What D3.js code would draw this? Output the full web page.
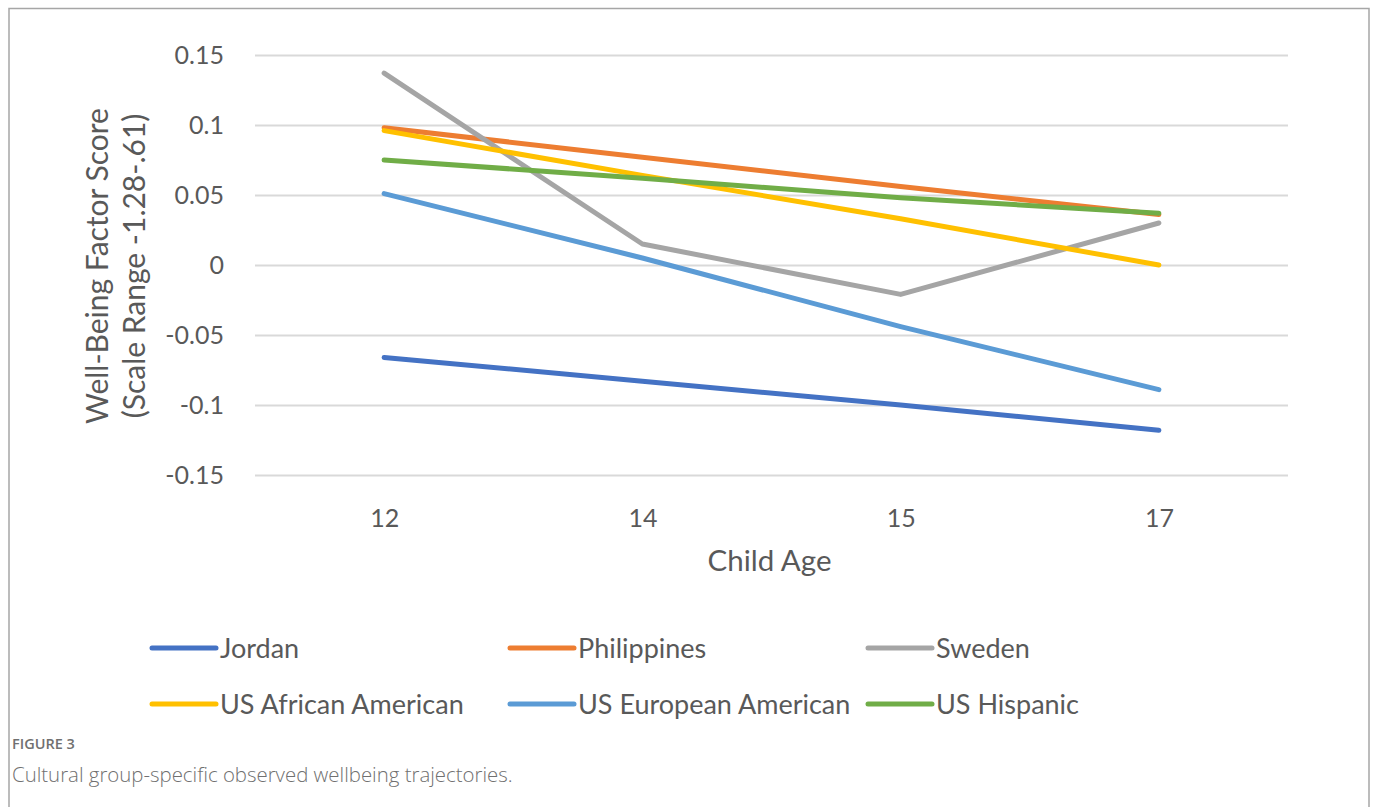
<!DOCTYPE html>
<html>
<head>
<meta charset="utf-8">
<script src="https://cdn.jsdelivr.net/npm/d3@7"></script>
<style>
  html, body { margin: 0; padding: 0; background: #fff; }
  svg { display: block; }
</style>
</head>
<body>
<svg id="chart" width="1375" height="807"></svg>
<script>
// Observed well-being factor scores by child age, per cultural group
const ages = ["12", "14", "15", "17"];
const yTicks = [0.15, 0.1, 0.05, 0, -0.05, -0.1, -0.15];

const jordan             = [-0.066, -0.083, -0.100, -0.118];
const philippines        = [ 0.098,  0.077,  0.056,  0.036];
const sweden             = [ 0.137,  0.015, -0.021,  0.030];
const usAfricanAmerican  = [ 0.096,  0.064,  0.033,  0.000];
const usEuropeanAmerican = [ 0.051,  0.005, -0.044, -0.089];
const usHispanic         = [ 0.075,  0.062,  0.048,  0.037];

const groupNames = ["Jordan", "Philippines", "Sweden",
                    "US African American", "US European American", "US Hispanic"];
const groupColors = ["#4472C4", "#ED7D31", "#A5A5A5", "#FFC000", "#5B9BD5", "#70AD47"];

const series = [jordan, philippines, sweden, usAfricanAmerican, usEuropeanAmerican, usHispanic]
  .map((vals, i) => ({ name: groupNames[i], color: groupColors[i], values: vals }));

const svg = d3.select("#chart");
const chartFont = "Lato, 'Open Sans', sans-serif";
const textGrey = "#595959";

// outer frame around the figure
svg.append("path")
  .attr("d", "M9,820 V8.5 H1369 V820")
  .attr("fill", "none")
  .attr("stroke", "#a6a6a6")
  .attr("stroke-width", 1.5);

const plot = { left: 255, right: 1288, top: 55, bottom: 475 };

const x = d3.scalePoint().domain(ages).range([plot.left, plot.right]).padding(0.5);
const y = d3.scaleLinear().domain([-0.15, 0.15]).range([plot.bottom, plot.top]);

// horizontal gridlines + value labels (plain hyphen for negatives)
const yAxis = d3.axisLeft(y)
  .tickValues(yTicks)
  .tickSize(-(plot.right - plot.left))
  .tickPadding(31)
  .tickFormat(d => String(+d.toFixed(2)));

const gy = svg.append("g")
  .attr("transform", `translate(${plot.left},0)`)
  .call(yAxis);
gy.select(".domain").remove();
gy.selectAll(".tick line").attr("stroke", "#d9d9d9").attr("stroke-width", 2);
gy.selectAll(".tick text")
  .attr("fill", textGrey)
  .style("font-family", chartFont)
  .style("font-size", "25px");

// category labels along the bottom
const xAxis = d3.axisBottom(x).tickSize(0).tickPadding(34);
const gx = svg.append("g")
  .attr("transform", `translate(0,${plot.bottom})`)
  .call(xAxis);
gx.select(".domain").remove();
gx.selectAll(".tick text")
  .attr("fill", textGrey)
  .style("font-family", chartFont)
  .style("font-size", "25px");

// axis titles
svg.append("text")
  .attr("x", (plot.left + plot.right) / 2 - 2)
  .attr("y", 571)
  .attr("text-anchor", "middle")
  .attr("fill", textGrey)
  .style("font-family", chartFont)
  .style("font-size", "29.5px")
  .text("Child Age");

const yTitle = svg.append("text")
  .attr("transform", "translate(0,266) rotate(-90)")
  .attr("text-anchor", "middle")
  .attr("fill", textGrey)
  .style("font-family", chartFont)
  .style("font-size", "30px");
yTitle.append("tspan").attr("x", 0).attr("y", 108).text("Well-Being Factor Score");
yTitle.append("tspan").attr("x", 0).attr("y", 145).text("(Scale Range -1.28-.61)");

// trajectories
const line = d3.line()
  .x((d, i) => x(ages[i]))
  .y(d => y(d));

svg.append("g")
  .selectAll("path")
  .data(series)
  .join("path")
  .attr("d", d => line(d.values))
  .attr("fill", "none")
  .attr("stroke", d => d.color)
  .attr("stroke-width", 5)
  .attr("stroke-linecap", "round")
  .attr("stroke-linejoin", "round");

// legend, three columns by two rows
const legendCols = [150, 508, 866];
const legendRows = [648, 704];
const legend = svg.append("g")
  .selectAll("g")
  .data(series)
  .join("g")
  .attr("transform", (d, i) => `translate(${legendCols[i % 3]},${legendRows[Math.floor(i / 3)]})`);

legend.append("line")
  .attr("x1", 2).attr("x2", 66)
  .attr("y1", 0).attr("y2", 0)
  .attr("stroke", d => d.color)
  .attr("stroke-width", 5)
  .attr("stroke-linecap", "round");

legend.append("text")
  .attr("x", 70)
  .attr("y", 9.5)
  .attr("fill", textGrey)
  .style("font-family", chartFont)
  .style("font-size", "27px")
  .text(d => d.name);

// figure caption
svg.append("text")
  .attr("x", 12).attr("y", 749)
  .attr("fill", "#707070")
  .style("font-family", "'Open Sans', sans-serif")
  .style("font-size", "14.5px")
  .style("font-weight", 600)
  .text("FIGURE 3");

svg.append("text")
  .attr("x", 12).attr("y", 782)
  .attr("fill", "#707070")
  .style("font-family", "'Open Sans', sans-serif")
  .style("font-size", "20.4px")
  .style("font-weight", 300)
  .text("Cultural group-specific observed wellbeing trajectories.");
</script>
</body>
</html>
